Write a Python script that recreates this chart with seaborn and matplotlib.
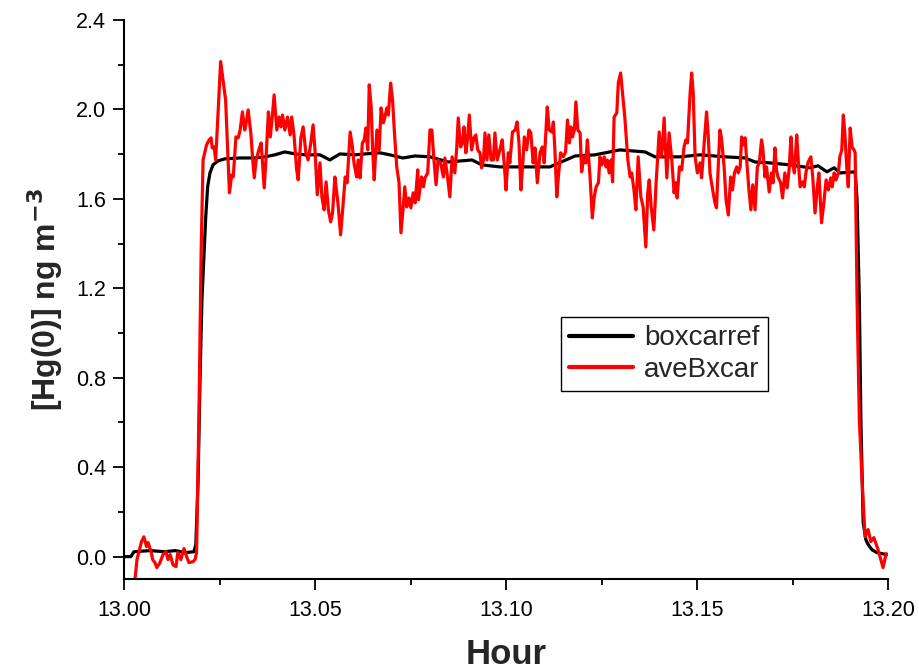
import matplotlib
matplotlib.use("Agg")
import matplotlib.pyplot as plt
import seaborn as sns
import pandas as pd
from matplotlib.ticker import MultipleLocator, FormatStrFormatter

# ---- data ----
black_hour = [13.0000, 13.0018, 13.0026, 13.0068, 13.0107, 13.0134, 13.0160, 13.0183,
              13.0188, 13.0194, 13.0199, 13.0204, 13.0210, 13.0214, 13.0219, 13.0225,
              13.0233, 13.0246, 13.0264, 13.0304, 13.0343, 13.0369, 13.0395, 13.0421,
              13.0448, 13.0474, 13.0513, 13.0539, 13.0565, 13.0605, 13.0631, 13.0670,
              13.0696, 13.0730, 13.0762, 13.0801, 13.0848, 13.0911, 13.0937, 13.0984,
              13.1063, 13.1115, 13.1181, 13.1233, 13.1298, 13.1364, 13.1390, 13.1455,
              13.1508, 13.1573, 13.1626, 13.1652, 13.1691, 13.1743, 13.1796, 13.1817,
              13.1840, 13.1859, 13.1874, 13.1914, 13.1919, 13.1925, 13.1929, 13.1935,
              13.1942, 13.1948, 13.1958, 13.1971, 13.1997]
black_val = [0.000, 0.000, 0.022, 0.027, 0.022, 0.027, 0.018, 0.022,
             0.054, 0.344, 0.791, 1.149, 1.372, 1.520, 1.654, 1.716,
             1.752, 1.770, 1.779, 1.783, 1.783, 1.788, 1.797, 1.810,
             1.801, 1.797, 1.797, 1.774, 1.801, 1.797, 1.801, 1.806,
             1.797, 1.783, 1.792, 1.788, 1.765, 1.774, 1.752, 1.743,
             1.743, 1.743, 1.792, 1.797, 1.819, 1.810, 1.788, 1.788,
             1.797, 1.788, 1.783, 1.765, 1.761, 1.752, 1.739, 1.748,
             1.721, 1.739, 1.716, 1.721, 1.596, 1.149, 0.612, 0.152,
             0.076, 0.054, 0.031, 0.018, 0.009]

red_hour = [13.0029, 13.0034, 13.0046, 13.0052, 13.0059, 13.0063, 13.0071, 13.0075,
            13.0081, 13.0086, 13.0094, 13.0102, 13.0110, 13.0115, 13.0121, 13.0128,
            13.0136, 13.0141, 13.0149, 13.0157, 13.0164, 13.0170, 13.0181, 13.0186,
            13.0190, 13.0196, 13.0202, 13.0207,
            13.0216, 13.0223, 13.0228, 13.0231, 13.0236, 13.0240, 13.0253, 13.0266,
            13.0276, 13.0282, 13.0286, 13.0293, 13.0299, 13.0304, 13.0310, 13.0316,
            13.0319, 13.0325, 13.0332, 13.0337, 13.0341, 13.0346, 13.0353, 13.0359,
            13.0362, 13.0367, 13.0372, 13.0378, 13.0383, 13.0388, 13.0393, 13.0400,
            13.0406, 13.0411, 13.0415, 13.0421, 13.0428, 13.0435, 13.0439, 13.0445,
            13.0452, 13.0456, 13.0463, 13.0469,
            13.0476, 13.0482, 13.0489, 13.0495, 13.0500, 13.0506, 13.0513, 13.0518,
            13.0524, 13.0529, 13.0535, 13.0541, 13.0546, 13.0552, 13.0557, 13.0561,
            13.0567, 13.0573, 13.0579, 13.0584, 13.0592, 13.0598, 13.0602, 13.0609,
            13.0613, 13.0618, 13.0624, 13.0629, 13.0633, 13.0638, 13.0642, 13.0647,
            13.0651, 13.0655, 13.0662, 13.0668, 13.0673, 13.0679, 13.0683, 13.0688,
            13.0692, 13.0698, 13.0703, 13.0708, 13.0714, 13.0720, 13.0725, 13.0731,
            13.0735, 13.0740, 13.0746, 13.0751, 13.0757, 13.0762,
            13.0769, 13.0771, 13.0779, 13.0784, 13.0788, 13.0795, 13.0801, 13.0806,
            13.0812, 13.0817, 13.0822, 13.0829, 13.0836, 13.0840, 13.0847, 13.0853,
            13.0859, 13.0866, 13.0871, 13.0875, 13.0881, 13.0886, 13.0890, 13.0895,
            13.0899, 13.0904, 13.0910, 13.0916, 13.0921, 13.0926, 13.0932, 13.0936,
            13.0941, 13.0945, 13.0950, 13.0955, 13.0961, 13.0967, 13.0971, 13.0977,
            13.0984, 13.0990, 13.0996, 13.1000, 13.1006, 13.1010, 13.1017, 13.1024,
            13.1029, 13.1034, 13.1039, 13.1044, 13.1048, 13.1054, 13.1060, 13.1065,
            13.1071, 13.1076,
            13.1082, 13.1089, 13.1095, 13.1100, 13.1108, 13.1113, 13.1120, 13.1124,
            13.1128, 13.1133, 13.1137, 13.1143, 13.1150, 13.1156, 13.1161, 13.1166,
            13.1170, 13.1174, 13.1179, 13.1183, 13.1188, 13.1194, 13.1198, 13.1204,
            13.1209, 13.1213, 13.1220, 13.1226, 13.1231, 13.1236, 13.1242, 13.1246,
            13.1251, 13.1257, 13.1262, 13.1265, 13.1270, 13.1275, 13.1279, 13.1283,
            13.1290, 13.1294, 13.1300, 13.1305, 13.1311, 13.1319, 13.1325, 13.1329,
            13.1335, 13.1340, 13.1346, 13.1353, 13.1359, 13.1366,
            13.1371, 13.1375, 13.1380, 13.1387, 13.1393, 13.1401, 13.1406, 13.1409,
            13.1414, 13.1421, 13.1427, 13.1434, 13.1440, 13.1445, 13.1448, 13.1454,
            13.1460, 13.1466, 13.1471, 13.1475, 13.1482, 13.1486, 13.1490, 13.1495,
            13.1501, 13.1508, 13.1512, 13.1519, 13.1525, 13.1529, 13.1534, 13.1541,
            13.1547, 13.1551, 13.1556, 13.1560, 13.1564, 13.1571, 13.1576, 13.1582,
            13.1588, 13.1593, 13.1598, 13.1604, 13.1608, 13.1613, 13.1617, 13.1621,
            13.1626, 13.1630, 13.1636, 13.1641, 13.1646, 13.1652, 13.1658, 13.1663,
            13.1669,
            13.1672, 13.1678, 13.1682, 13.1689, 13.1695, 13.1699, 13.1704, 13.1708,
            13.1712, 13.1719, 13.1724, 13.1730, 13.1736, 13.1741, 13.1746, 13.1750,
            13.1755, 13.1761, 13.1765, 13.1770, 13.1776, 13.1781, 13.1785, 13.1791,
            13.1798, 13.1803, 13.1809, 13.1815, 13.1819, 13.1826, 13.1832, 13.1838,
            13.1844, 13.1850, 13.1854, 13.1859, 13.1864, 13.1870, 13.1874, 13.1879,
            13.1883, 13.1887, 13.1892, 13.1896, 13.1901, 13.1906, 13.1911, 13.1914,
            13.1919, 13.1925, 13.1932, 13.1940, 13.1948, 13.1955, 13.1963, 13.1974,
            13.1987, 13.1995, 13.2000]
red_val = [-0.098, -0.013, 0.068, 0.089, 0.045, 0.063, 0.022, -0.013,
           -0.027, -0.049, -0.027, 0.009, 0.022, -0.013, 0.009, -0.036,
           -0.045, 0.018, -0.013, 0.036, 0.000, -0.027, -0.022, -0.013,
           0.018, 0.612, 1.372, 1.774,
           1.841, 1.864, 1.873, 1.828, 1.832, 1.774, 2.214, 2.042,
           1.627, 1.707, 1.698, 1.877, 1.873, 1.908, 1.989, 1.908,
           1.931, 1.998, 1.895, 1.774, 1.694, 1.774, 1.819, 1.850,
           1.774, 1.649, 1.788, 1.989, 1.877, 1.966, 2.065, 1.908,
           1.966, 1.922, 1.975, 1.908, 1.966, 1.886, 1.966, 1.886,
           1.730, 1.685, 1.873, 1.922,
           1.806, 1.774, 1.850, 1.931, 1.819, 1.618, 1.761, 1.609,
           1.551, 1.676, 1.551, 1.497, 1.537, 1.698, 1.627, 1.564,
           1.439, 1.564, 1.698, 1.672, 1.899, 1.832, 1.761, 1.698,
           1.774, 1.694, 1.850, 1.864, 1.917, 1.819, 2.110, 2.011,
           1.819, 1.685, 1.908, 1.819, 2.007, 1.940, 1.966, 2.007,
           1.975, 2.118, 2.042, 1.895, 1.743, 1.672, 1.448, 1.564,
           1.654, 1.564, 1.604, 1.560, 1.627, 1.582,
           1.730, 1.596, 1.698, 1.654, 1.694, 1.716, 1.908, 1.908,
           1.761, 1.663, 1.774, 1.761, 1.698, 1.783, 1.698, 1.609,
           1.788, 1.716, 1.828, 1.962, 1.832, 1.850, 1.922, 1.806,
           1.864, 1.975, 1.819, 1.873, 1.886, 1.819, 1.806, 1.739,
           1.774, 1.895, 1.774, 1.886, 1.774, 1.774, 1.895, 1.774,
           1.819, 1.864, 1.743, 1.640, 1.806, 1.761, 1.899, 1.908,
           1.944, 1.850, 1.640, 1.761, 1.877, 1.819, 1.908, 1.895,
           1.761, 1.828,
           1.672, 1.806, 1.832, 1.761, 2.011, 1.908, 1.899, 1.944,
           1.819, 1.609, 1.698, 1.806, 1.788, 1.810, 1.953, 1.850,
           1.922, 1.877, 1.908, 2.034, 1.908, 1.895, 1.721, 1.788,
           1.761, 1.864, 1.698, 1.515, 1.609, 1.654, 1.672, 1.788,
           1.752, 1.788, 1.743, 1.774, 1.716, 1.774, 1.676, 1.966,
           1.984, 2.118, 2.163, 2.074, 1.966, 1.774, 1.698, 1.716,
           1.640, 1.551, 1.788, 1.609, 1.564, 1.385,
           1.627, 1.685, 1.564, 1.461, 1.672, 1.899, 1.788, 1.819,
           1.962, 1.694, 1.895, 1.774, 1.627, 1.672, 1.604, 1.743,
           1.730, 1.832, 1.864, 1.850, 2.074, 2.163, 2.074, 1.788,
           1.716, 1.761, 1.694, 1.850, 1.989, 1.895, 1.716, 1.640,
           1.582, 1.560, 1.761, 1.908, 1.873, 1.743, 1.596, 1.528,
           1.698, 1.640, 1.716, 1.743, 1.716, 1.743, 1.877, 1.841,
           1.873, 1.774, 1.640, 1.551, 1.663, 1.551, 1.743, 1.761,
           1.864,
           1.832, 1.698, 1.743, 1.631, 1.716, 1.672, 1.828, 1.730,
           1.698, 1.672, 1.604, 1.716, 1.649, 1.730, 1.877, 1.761,
           1.716, 1.886, 1.774, 1.654, 1.676, 1.654, 1.716, 1.765,
           1.788, 1.698, 1.537, 1.654, 1.716, 1.493, 1.582, 1.685,
           1.640, 1.694, 1.654, 1.716, 1.685, 1.716, 1.788, 1.819,
           1.975, 1.895, 1.743, 1.654, 1.917, 1.832, 1.819, 1.806,
           1.149, 0.612, 0.344, 0.089, 0.121, 0.067, 0.085, 0.031,
           -0.049, 0.013, 0.009]

series_names = ["boxcarref", "aveBxcar"]
series_colors = ["#000000", "#ff0000"]
x_ticks = [13.00, 13.05, 13.10, 13.15, 13.20]
y_ticks = [0.0, 0.4, 0.8, 1.2, 1.6, 2.0, 2.4]

df_black = pd.DataFrame({"Hour": black_hour, "val": black_val})
df_red = pd.DataFrame({"Hour": red_hour, "val": red_val})

sns.set_style("ticks")
plt.rcParams["font.family"] = ["Liberation Sans", "DejaVu Sans"]

fig = plt.figure(figsize=(9.2, 6.69), dpi=100)
ax = fig.add_axes([124 / 920, 1 - 579 / 669, (888 - 124) / 920, (579 - 20) / 669])

sns.lineplot(data=df_black, x="Hour", y="val", ax=ax, color=series_colors[0],
             linewidth=2.3, sort=False, estimator=None, label=series_names[0])
sns.lineplot(data=df_red, x="Hour", y="val", ax=ax, color=series_colors[1],
             linewidth=2.3, sort=False, estimator=None, label=series_names[1])

ax.set_xlim(13.0, 13.2)
ax.set_ylim(-0.1, 2.4)
ax.set_xticks(x_ticks)
ax.set_yticks(y_ticks)
ax.xaxis.set_major_formatter(FormatStrFormatter("%.2f"))
ax.yaxis.set_major_formatter(FormatStrFormatter("%.1f"))
ax.xaxis.set_minor_locator(MultipleLocator(0.025))
ax.yaxis.set_minor_locator(MultipleLocator(0.2))

for s in ["top", "right"]:
    ax.spines[s].set_visible(False)
for s in ["left", "bottom"]:
    ax.spines[s].set_linewidth(1.5)
    ax.spines[s].set_color("black")

ax.tick_params(which="major", direction="out", length=8, width=1.3,
               labelsize=15.5, colors="black", pad=5)
ax.tick_params(which="minor", direction="out", length=4, width=1.3, colors="black")
ax.tick_params(axis="x", which="major", pad=7)

ax.set_xlabel("Hour", fontsize=25, fontweight="bold", labelpad=12)
ax.set_ylabel(r"[Hg(0)] ng m$^{\mathbf{-3}}$", fontsize=23, fontweight="bold", labelpad=8)

leg = ax.legend(loc="upper left", bbox_to_anchor=((561 - 124) / 764, (579 - 317) / 559),
                borderaxespad=0, fontsize=20, frameon=True, fancybox=False,
                edgecolor="black", framealpha=1, borderpad=0.3, labelspacing=0.2,
                handlelength=2.3, handletextpad=0.4)
leg.get_frame().set_linewidth(1.0)
for line in leg.get_lines():
    line.set_linewidth(3.0)

fig.savefig("out.png", dpi=100)
